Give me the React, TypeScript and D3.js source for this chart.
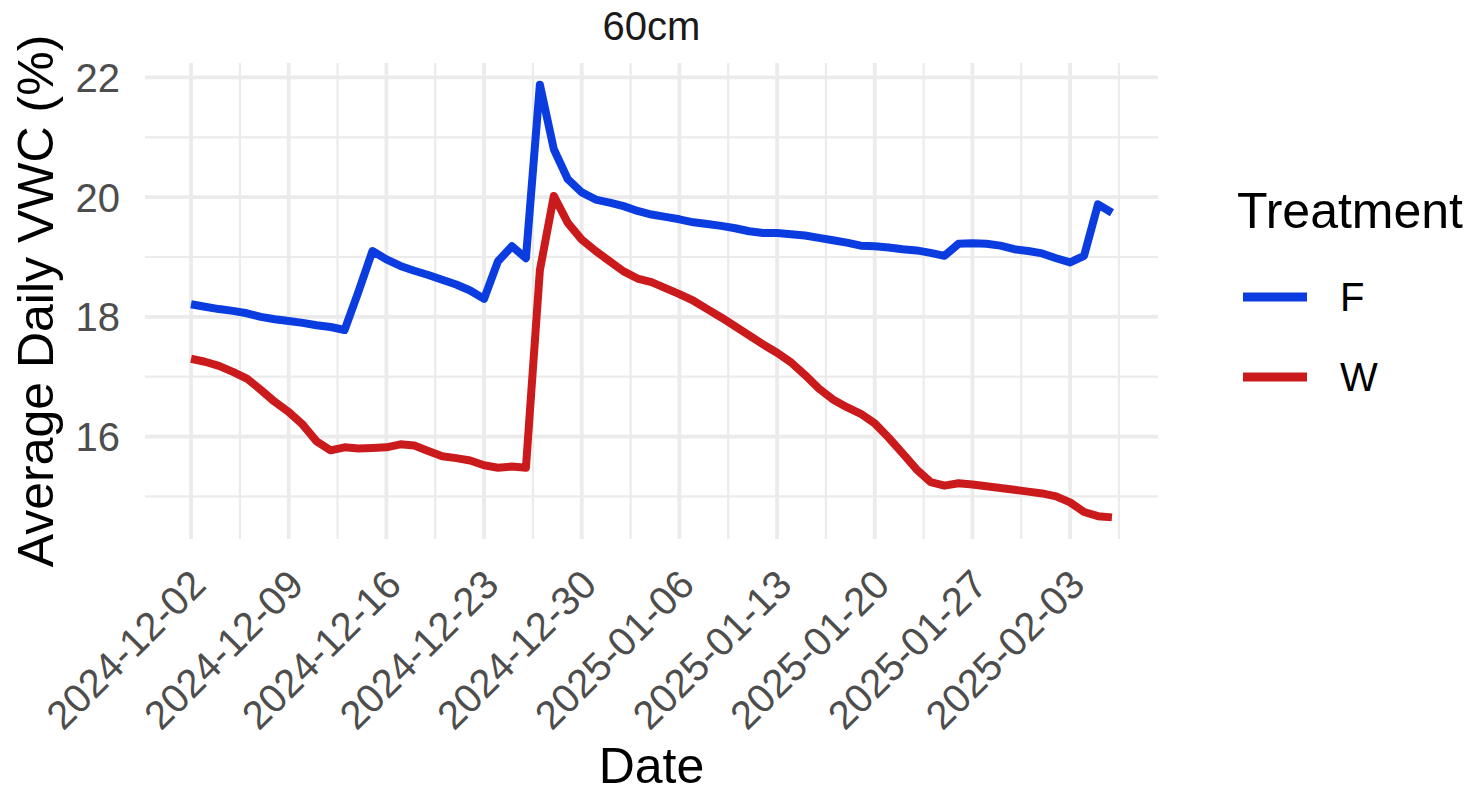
import React from "react";
import * as d3 from "d3";

const START_DATE = "2024-12-02";
const TREATMENTS = ["F", "W"];
const COLORS = ["#0a3ce0", "#cb1a1b"];
const X_TICKS = ["2024-12-02", "2024-12-09", "2024-12-16", "2024-12-23", "2024-12-30", "2025-01-06", "2025-01-13", "2025-01-20", "2025-01-27", "2025-02-03"];
const Y_TICKS = [16, 18, 20, 22];
const Y_MINOR = [15, 17, 19, 21];

const F_VALUES = [
  18.21, 18.17, 18.13, 18.10, 18.06, 18.00, 17.96, 17.93, 17.90, 17.86,
  17.83, 17.78, 18.42, 19.10, 18.96, 18.85, 18.77, 18.70, 18.62, 18.54,
  18.44, 18.30, 18.93, 19.18, 18.98, 21.88, 20.80, 20.30, 20.08, 19.96,
  19.91, 19.85, 19.77, 19.71, 19.67, 19.63, 19.58, 19.55, 19.52, 19.48,
  19.43, 19.40, 19.40, 19.38, 19.36, 19.32, 19.28, 19.24, 19.19, 19.18,
  19.16, 19.13, 19.11, 19.07, 19.02, 19.22, 19.23, 19.22, 19.19, 19.13,
  19.10, 19.06, 18.98, 18.91, 19.02, 19.88, 19.74,
];

const W_VALUES = [
  17.30, 17.25, 17.18, 17.08, 16.97, 16.78, 16.58, 16.41, 16.20, 15.92,
  15.77, 15.82, 15.80, 15.81, 15.82, 15.87, 15.85, 15.76, 15.67, 15.64,
  15.60, 15.52, 15.48, 15.50, 15.48, 18.78, 20.02, 19.57, 19.29, 19.10,
  18.93, 18.76, 18.64, 18.58, 18.48, 18.38, 18.27, 18.13, 17.99, 17.84,
  17.69, 17.54, 17.40, 17.24, 17.03, 16.80, 16.62, 16.49, 16.38, 16.22,
  15.98, 15.72, 15.45, 15.24, 15.18, 15.22, 15.20, 15.17, 15.14, 15.11,
  15.08, 15.05, 15.00, 14.90, 14.74, 14.67, 14.65,
];

const SERIES = [F_VALUES, W_VALUES];

const W = 1474;
const H = 790;
const PANEL = { left: 145, right: 1158, top: 63, bottom: 539 };
const FONT = "'Liberation Sans', Arial, Helvetica, sans-serif";

export default function App() {
  const parse = d3.utcParse("%Y-%m-%d");
  const start = parse(START_DATE) as Date;
  const dates = F_VALUES.map((_, i) => d3.utcDay.offset(start, i));
  const d0 = dates[0].getTime();
  const d1 = dates[dates.length - 1].getTime();
  const xpad = (d1 - d0) * 0.05;
  const x = d3.scaleUtc().domain([new Date(d0 - xpad), new Date(d1 + xpad)]).range([PANEL.left, PANEL.right]);

  const all = [...F_VALUES, ...W_VALUES];
  const ymin = d3.min(all) as number;
  const ymax = d3.max(all) as number;
  const ypad = (ymax - ymin) * 0.05;
  const y = d3.scaleLinear().domain([ymin - ypad, ymax + ypad]).range([PANEL.bottom, PANEL.top]);

  const xTickDates = X_TICKS.map((t) => parse(t) as Date);
  const xMinor: Date[] = [];
  for (let i = 0; i < xTickDates.length; i++) {
    const half = d3.utcHour.offset(xTickDates[i], 84);
    if (half.getTime() <= x.domain()[1].getTime()) xMinor.push(half);
  }

  const line = d3
    .line<number>()
    .x((_, i) => x(dates[i]))
    .y((v) => y(v));

  const gridColor = "#ebebeb";

  return (
    <svg width={W} height={H} style={{ position: "absolute", left: 0, top: 0, background: "#fff" }} fontFamily={FONT}>
      <rect width={W} height={H} fill="#fff" />
      {/* minor grid */}
      {Y_MINOR.map((v) => (
        <line key={"ym" + v} x1={PANEL.left} x2={PANEL.right} y1={y(v)} y2={y(v)} stroke={gridColor} strokeWidth={2.2} />
      ))}
      {xMinor.map((d, i) => (
        <line key={"xm" + i} x1={x(d)} x2={x(d)} y1={PANEL.top} y2={PANEL.bottom} stroke={gridColor} strokeWidth={2.2} />
      ))}
      {/* major grid */}
      {Y_TICKS.map((v) => (
        <line key={"y" + v} x1={PANEL.left} x2={PANEL.right} y1={y(v)} y2={y(v)} stroke={gridColor} strokeWidth={3.8} />
      ))}
      {xTickDates.map((d, i) => (
        <line key={"x" + i} x1={x(d)} x2={x(d)} y1={PANEL.top} y2={PANEL.bottom} stroke={gridColor} strokeWidth={3.8} />
      ))}

      {/* lines */}
      {SERIES.map((s, k) => (
        <path key={TREATMENTS[k]} d={line(s) || ""} fill="none" stroke={COLORS[k]} strokeWidth={8} strokeLinejoin="round" strokeLinecap="butt" />
      ))}

      {/* y tick labels */}
      {Y_TICKS.map((v) => (
        <text key={"yl" + v} x={120} y={y(v)} dy="0.36em" textAnchor="end" fontSize={40} fill="#4d4d4d">
          {v}
        </text>
      ))}

      {/* x tick labels */}
      {xTickDates.map((d, i) => (
        <text
          key={"xl" + i}
          transform={`translate(${x(d) + 17},${587}) rotate(-45)`}
          textAnchor="end"
          fontSize={40}
          fill="#4d4d4d"
        >
          {X_TICKS[i]}
        </text>
      ))}

      {/* strip title */}
      <text x={(PANEL.left + PANEL.right) / 2} y={40} textAnchor="middle" fontSize={40} fill="#1a1a1a">
        60cm
      </text>

      {/* axis titles */}
      <text x={(PANEL.left + PANEL.right) / 2} y={783} textAnchor="middle" fontSize={50} fill="#000">
        Date
      </text>
      <text transform={`translate(53,${(PANEL.top + PANEL.bottom) / 2}) rotate(-90)`} textAnchor="middle" fontSize={50} fill="#000">
        Average Daily VWC (%)
      </text>

      {/* legend */}
      <text x={1237} y={228} fontSize={50} fill="#000">
        Treatment
      </text>
      {TREATMENTS.map((t, k) => (
        <g key={"lg" + t}>
          <line x1={1243} x2={1307} y1={297 + k * 80} y2={297 + k * 80} stroke={COLORS[k]} strokeWidth={9} />
          <text x={1340} y={311 + k * 80} fontSize={40} fill="#000">
            {t}
          </text>
        </g>
      ))}
    </svg>
  );
}
